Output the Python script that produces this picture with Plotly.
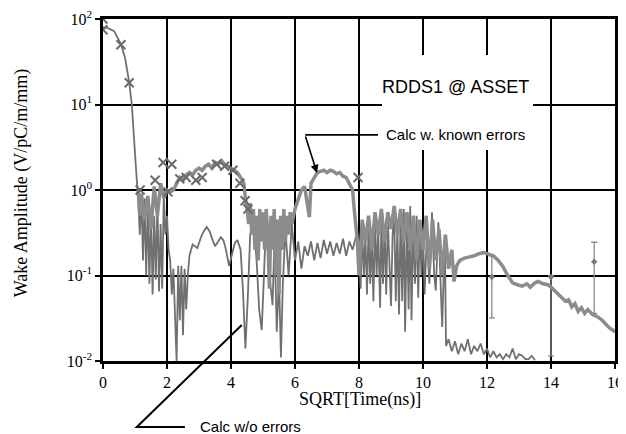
import plotly.graph_objects as go

# ---- Calc w/o errors ----
noerr_x = [0.0, 0.12, 0.35, 0.56, 0.69, 0.82, 0.9, 0.97, 1.05, 1.1, 1.15, 1.2, 1.25, 1.3, 1.35, 1.4, 1.45, 1.5,
           1.55, 1.6, 1.65, 1.7, 1.75, 1.8, 1.85, 1.9, 1.95, 2.0, 2.05, 2.1, 2.15, 2.2, 2.25, 2.3, 2.35, 2.4,
           2.45, 2.5, 2.55, 2.6, 2.65, 2.7, 2.8, 2.95, 3.06, 3.15, 3.24, 3.33, 3.41, 3.5, 3.6, 3.68, 3.76,
           3.83, 3.94, 4.04, 4.12, 4.2, 4.3, 4.38, 4.45, 4.52, 4.6, 4.7, 4.8, 4.88, 4.96, 5.03, 5.1, 5.2,
           5.3, 5.36, 5.43, 5.5, 5.56, 5.62, 5.7, 5.8, 5.9, 6.0, 6.1, 6.2, 6.3, 6.4, 6.5, 6.6, 6.7, 6.8,
           6.9, 7.0, 7.1, 7.2, 7.3, 7.4, 7.5, 7.6, 7.7, 7.8, 7.9, 8.0, 8.05, 8.1, 8.15, 8.2, 8.25, 8.3,
           8.35, 8.4, 8.45, 8.5, 8.55, 8.6, 8.66, 8.7, 8.75, 8.8, 8.85, 8.9, 8.95, 9.0, 9.05, 9.1, 9.15,
           9.2, 9.25, 9.3, 9.35, 9.4, 9.44, 9.5, 9.55, 9.6, 9.64, 9.7, 9.75, 9.8, 9.85, 9.9, 9.95, 10.0,
           10.05, 10.12, 10.2, 10.28, 10.35, 10.4, 10.48, 10.55, 10.6, 10.68, 10.72, 10.8, 10.9, 11.0,
           11.1, 11.2, 11.3, 11.4, 11.5, 11.6, 11.7, 11.8, 11.9, 12.0, 12.1, 12.2, 12.3, 12.4, 12.5,
           12.6, 12.7, 12.8, 12.9, 13.0, 13.1, 13.2, 13.3, 13.4, 13.5]
noerr_y = [80, 79, 72, 51, 35, 18, 10, 3.6, 1.4, 0.8, 0.3, 0.9, 0.15, 0.8, 0.1, 0.7, 0.08, 0.6,
           0.06, 0.5, 0.09, 0.8, 0.065, 0.4, 0.07, 0.9, 0.3, 0.5, 0.2, 0.15, 0.06, 0.12, 0.04, 0.01, 0.13, 0.03,
           0.13, 0.02, 0.12, 0.04, 0.1, 0.17, 0.23, 0.21, 0.28, 0.33, 0.37, 0.33, 0.27, 0.22, 0.25, 0.28, 0.26,
           0.21, 0.13, 0.18, 0.24, 0.26, 0.2, 0.06, 0.014, 0.05, 0.3, 0.44, 0.15, 0.04, 0.023, 0.1, 0.5, 0.1,
           0.045, 0.3, 0.022, 0.1, 0.011, 0.08, 0.35, 0.1, 0.4, 0.15, 0.25, 0.12, 0.22, 0.17, 0.25, 0.15, 0.24, 0.16,
           0.26, 0.18, 0.25, 0.17, 0.24, 0.18, 0.27, 0.17, 0.25, 0.2, 0.28, 0.22, 0.07, 0.35, 0.1, 0.3, 0.06, 0.4,
           0.08, 0.3, 0.05, 0.45, 0.1, 0.35, 0.042, 0.5, 0.08, 0.4, 0.06, 0.45, 0.12, 0.044, 0.3, 0.5, 0.05,
           0.4, 0.035, 0.55, 0.05, 0.6, 0.022, 0.5, 0.04, 0.65, 0.03, 0.45, 0.08, 0.5, 0.055, 0.4, 0.1, 0.35,
           0.06, 0.3, 0.08, 0.55, 0.1, 0.067, 0.42, 0.1, 0.025, 0.3, 0.015, 0.018, 0.013, 0.017,
           0.012, 0.016, 0.013, 0.018, 0.012, 0.015, 0.013, 0.016, 0.012, 0.014, 0.011, 0.013, 0.011, 0.012, 0.0105,
           0.012, 0.011, 0.014, 0.0105, 0.012, 0.0115, 0.0105, 0.0105, 0.0115, 0.0102]

# ---- Calc w. known errors ----
err_x = [1.1, 1.15, 1.2, 1.3, 1.4, 1.5, 1.6, 1.7, 1.8, 1.9, 2.0, 2.1, 2.2, 2.3, 2.4, 2.5, 2.6, 2.7, 2.8, 2.9,
         3.0, 3.1, 3.2, 3.3, 3.4, 3.5, 3.6, 3.7, 3.8, 3.9, 4.0, 4.1, 4.2, 4.3, 4.4, 4.45, 4.5, 4.55, 4.6, 4.65,
         4.7, 4.75, 4.8, 4.85, 4.9, 4.95, 5.0, 5.05, 5.1, 5.15, 5.2, 5.25, 5.3, 5.35, 5.4, 5.45, 5.5, 5.55,
         5.6, 5.65, 5.7, 5.75, 5.8, 5.85, 5.9, 6.0, 6.1, 6.2, 6.3, 6.4, 6.45, 6.5, 6.6, 6.7, 6.8, 6.9, 7.0,
         7.1, 7.2, 7.3, 7.4, 7.5, 7.6, 7.7, 7.8, 7.85, 7.9, 7.95, 8.0, 8.1, 8.2, 8.3, 8.4, 8.5, 8.6, 8.7,
         8.8, 8.9, 9.0, 9.1, 9.2, 9.3, 9.4, 9.5, 9.6, 9.7, 9.8, 9.9, 10.0, 10.1, 10.2, 10.3, 10.4, 10.5,
         10.6, 10.7, 10.8, 10.9, 10.97, 11.05, 11.15, 11.3, 11.45, 11.6, 11.75, 11.9, 12.0, 12.2, 12.35,
         12.5, 12.65, 12.8, 12.95, 13.1, 13.25, 13.35, 13.5, 13.6, 13.75, 13.9, 14.0, 14.15, 14.3, 14.45,
         14.55, 14.65, 14.75, 14.85, 14.95, 15.05, 15.15, 15.3, 15.45, 15.6, 15.75, 15.85, 16.0]
err_y = [1.0, 0.5, 0.9, 0.45, 0.85, 0.35, 1.1, 0.5, 1.2, 0.8, 1.0, 0.95, 1.0, 1.2, 1.4, 1.3, 1.5, 1.6, 1.5, 1.7,
         1.8, 1.7, 1.9, 2.0, 1.8, 2.1, 2.0, 2.2, 2.0, 1.9, 1.8, 1.7, 1.6, 1.4, 1.2, 0.8, 0.63, 0.4, 0.7, 0.3,
         0.6, 0.2, 0.5, 0.15, 0.6, 0.25, 0.55, 0.2, 0.6, 0.3, 0.07, 0.5, 0.2, 0.6, 0.1, 0.45, 0.06, 0.5,
         0.2, 0.6, 0.25, 0.5, 0.3, 0.55, 0.4, 0.6, 0.8, 1.0, 1.1, 0.6, 0.48, 1.2, 1.4, 1.6, 1.65, 1.7, 1.6,
         1.7, 1.65, 1.55, 1.6, 1.45, 1.4, 1.2, 1.0, 0.6, 0.4, 0.25, 0.1, 0.45, 0.25, 0.5, 0.2, 0.55, 0.3, 0.6,
         0.25, 0.55, 0.35, 0.65, 0.3, 0.6, 0.25, 0.55, 0.2, 0.5, 0.15, 0.45, 0.2, 0.5, 0.12, 0.45, 0.15, 0.35,
         0.1, 0.3, 0.12, 0.2, 0.085, 0.13, 0.15, 0.16, 0.165, 0.17, 0.18, 0.185, 0.18, 0.17, 0.15,
         0.127, 0.1, 0.082, 0.078, 0.075, 0.08, 0.073, 0.082, 0.085, 0.08, 0.078, 0.073, 0.065, 0.057, 0.05,
         0.052, 0.043, 0.047, 0.038, 0.042, 0.036, 0.04, 0.035, 0.033, 0.03, 0.026, 0.024, 0.022]

# ---- Measured points ----
meas_x = [0.0, 0.0, 0.56, 0.82, 1.16, 1.63, 1.88, 2.03, 2.15, 2.4, 2.6, 2.9, 3.1, 3.55, 3.8, 4.06, 4.28,
          4.44, 4.53, 7.97]
meas_y = [100, 75, 50, 18, 1.0, 1.3, 2.1, 0.95, 2.0, 1.35, 1.4, 1.3, 1.4, 2.0, 1.9, 1.7, 1.2,
          0.75, 0.6, 1.4]

# ---- Points with error bars ----
eb_x = [12.15, 14.0, 15.35]
eb_y = [0.096, 0.096, 0.145]
eb_plus = [0.074, 0.004, 0.1]
eb_minus = [0.064, 0.0845, 0.109]

fig = go.Figure()
fig.add_trace(go.Scatter(x=noerr_x, y=noerr_y, mode="lines",
                         line=dict(color="#707070", width=1.8), showlegend=False))
fig.add_trace(go.Scatter(x=err_x, y=err_y, mode="lines",
                         line=dict(color="#8c8c8c", width=3.5), showlegend=False))
fig.add_trace(go.Scatter(x=meas_x, y=meas_y, mode="markers",
                         marker=dict(symbol="x-thin-open", size=9, color="#6a6a6a",
                                     line=dict(color="#6a6a6a", width=2)),
                         showlegend=False))
fig.add_trace(go.Scatter(x=eb_x, y=eb_y, mode="markers",
                         marker=dict(symbol="diamond", size=5, color="#7a7a7a"),
                         error_y=dict(type="data", symmetric=False, array=eb_plus, arrayminus=eb_minus,
                                      color="#8a8a8a", thickness=1.3, width=3),
                         showlegend=False))

serif = "Liberation Serif"
sans = "Liberation Sans"

fig.update_xaxes(range=[0, 16], dtick=2, tick0=0, showgrid=True, gridcolor="black", gridwidth=2,
                 showline=True, linecolor="black", linewidth=2.5, mirror=True, zeroline=False,
                 ticks="outside", ticklen=5, tickwidth=2, tickcolor="black", automargin=False,
                 ticklabeloverflow="allow",
                 tickfont=dict(family=serif, size=16, color="black"))
fig.update_yaxes(type="log", range=[-2, 2], tickvals=[0.01, 0.1, 1, 10, 100],
                 ticktext=["10<sup>-2</sup>", "10<sup>-1</sup>", "10<sup>0</sup>", "10<sup>1</sup>", "10<sup>2</sup>"],
                 showgrid=True, gridcolor="black", gridwidth=2,
                 showline=True, linecolor="black", linewidth=2.5, mirror=True, zeroline=False,
                 ticks="outside", ticklen=5, tickwidth=2, tickcolor="black", automargin=False,
                 ticklabeloverflow="allow",
                 tickfont=dict(family=serif, size=16, color="black"))

shapes = [
    dict(type="rect", xref="paper", yref="paper", x0=0.545, x1=0.840, y0=0.617, y1=0.895,
         fillcolor="white", line=dict(width=0), layer="above"),
    dict(type="line", xref="paper", yref="paper", x0=0.395, x1=0.537, y0=0.661, y1=0.661,
         line=dict(color="black", width=1.8), layer="above"),
    dict(type="path", xref="paper", yref="paper",
         path="M 0.160,-0.193 L 0.066,-0.193 L 0.271,0.105",
         line=dict(color="black", width=2), layer="above"),
]

annotations = [
    dict(text="RDDS1 @ ASSET", xref="paper", yref="paper", x=0.689, y=0.801, showarrow=False,
         xanchor="center", yanchor="middle", font=dict(family=sans, size=18, color="black")),
    dict(text="Calc w. known errors", xref="paper", yref="paper", x=0.689, y=0.661, showarrow=False,
         xanchor="center", yanchor="middle", font=dict(family=sans, size=15, color="black")),
    dict(text="", xref="paper", yref="paper", x=0.418, y=0.550, ax=-12, ay=-38, showarrow=True,
         arrowhead=2, arrowsize=1, arrowwidth=1.6, arrowcolor="black"),
    dict(text="Calc w/o errors", xref="paper", yref="paper", x=0.289, y=-0.191, showarrow=False,
         xanchor="center", yanchor="middle", font=dict(family=sans, size=15, color="black")),
    dict(text="Wake Amplitude (V/pC/m/mm)", xref="paper", yref="paper", x=-0.160, y=0.52,
         xanchor="center", yanchor="middle",
         textangle=-90, showarrow=False, font=dict(family=serif, size=18, color="black")),
    dict(text="SQRT[Time(ns)]", xref="paper", yref="paper", x=0.502, y=-0.114, showarrow=False,
         xanchor="center", yanchor="middle", font=dict(family=serif, size=18, color="black")),
]

# page body adds an 8px offset; size and margins compensate so the plot area sits at 103..615 x 19..361
fig.update_layout(width=618, height=426, margin=dict(l=95, r=11, t=11, b=73, autoexpand=False),
                  paper_bgcolor="white", plot_bgcolor="white",
                  shapes=shapes, annotations=annotations, showlegend=False)

fig.write_html("out.html")
